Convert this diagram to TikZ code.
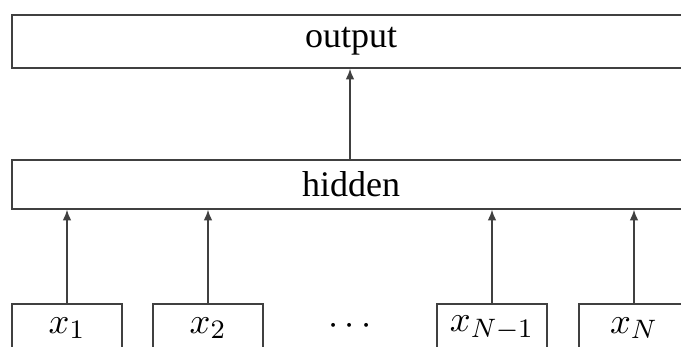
\documentclass[tikz,border=0pt]{standalone}
\usepackage{fontspec}
\setmainfont{Liberation Serif}
\usetikzlibrary{arrows.meta}
\begin{document}
\begin{tikzpicture}[x=0.3pt,y=-0.3pt,
  line width=0.45pt,
  every node/.style={font=\fontsize{10.8}{13}\selectfont},
  wide/.style={draw=black!75,rectangle,inner sep=0pt,minimum width=203.4pt},
  inbox/.style={draw=black!75,rectangle,inner sep=0pt,minimum width=33pt,minimum height=14.4pt},
  conn/.style={draw=black!75,-{Latex[length=3.2pt,width=2.6pt]}}]
\clip (0,0) rectangle (681,347);
\useasboundingbox (0,0) rectangle (681,347);
\node[wide,minimum height=15.9pt] (output) at (351,41.5) {output};
\node[wide,minimum height=14.7pt] (hidden) at (351,184.5) {hidden};
\node[inbox] (x1) at (67,328) {$x_1$};
\node[inbox] (x2) at (208,328) {$x_2$};
\node (dots) at (350,326) {$\cdots$};
\node[inbox] (xN1) at (492,328) {$x_{N-1}$};
\node[inbox] (xN) at (634,328) {$x_N$};
\draw[conn] (hidden.north -| 350,0) -- (output.south -| 350,0);
\foreach \n in {x1,x2,xN1,xN}{
  \draw[conn] (\n.north) -- (\n.north |- hidden.south);
}
\end{tikzpicture}
\end{document}
